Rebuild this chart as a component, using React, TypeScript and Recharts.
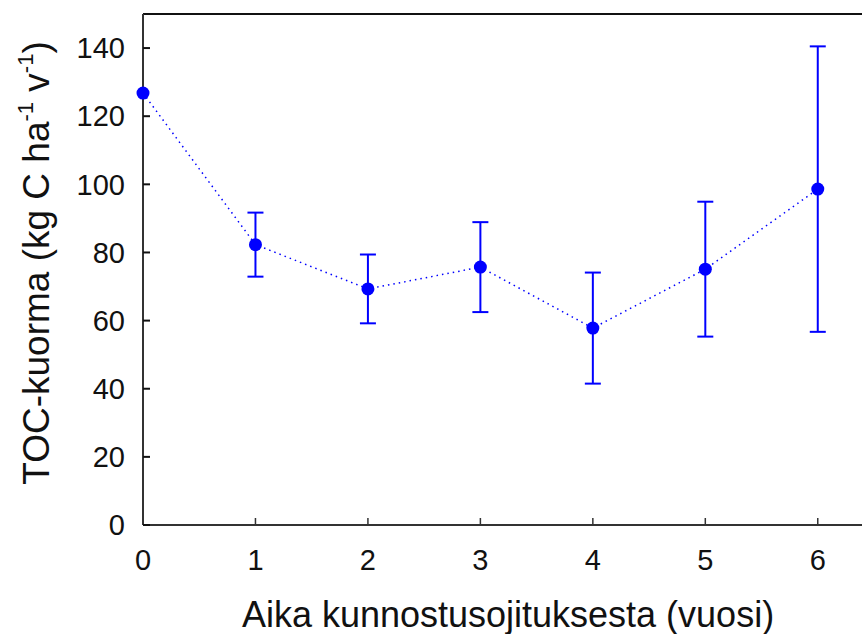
import React from "react";
import { LineChart, Line, XAxis, YAxis, ErrorBar, ReferenceLine } from "recharts";

const years = [0, 1, 2, 3, 4, 5, 6];
const toc = [126.8, 82.3, 69.3, 75.7, 57.8, 75.1, 98.6];
const toc_err = [null, 9.4, 10.1, 13.2, 16.3, 19.8, 41.9];
const yTicks = [0, 20, 40, 60, 80, 100, 120, 140];

const data = years.map((y, i) => ({ year: y, toc: toc[i], err: toc_err[i] }));

const FONT = "'Liberation Sans', Arial, sans-serif";
const BLUE = "#0000ff";

const YLabel = () => (
  <text
    x={49}
    y={263}
    transform="rotate(-90, 49, 263)"
    textAnchor="middle"
    fontFamily={FONT}
    fontSize={37}
    fill="#111"
  >
    TOC-kuorma (kg C ha
    <tspan fontSize={22} dy={-16}>-1</tspan>
    <tspan dy={16}> v</tspan>
    <tspan fontSize={22} dy={-16}>-1</tspan>
    <tspan dy={16}>)</tspan>
  </text>
);

const XLabel = () => (
  <text x={508} y={627} textAnchor="middle" fontFamily={FONT} fontSize={36} fill="#111">
    Aika kunnostusojituksesta (vuosi)
  </text>
);

export default function App() {
  return (
    <div style={{ position: "fixed", left: 0, top: 0, width: 862, height: 634, background: "#fff", overflow: "hidden" }}>
      <LineChart width={874} height={634} data={data} margin={{ top: 14, right: 0, bottom: 0, left: 0 }}>
        <XAxis
          dataKey="year"
          type="number"
          domain={[0, 6.5]}
          ticks={years}
          tickSize={-7}
          tickMargin={31}
          axisLine={{ stroke: "#333", strokeWidth: 2 }}
          tickLine={{ stroke: "#333", strokeWidth: 1.5 }}
          tick={{ fill: "#111", fontSize: 29, fontFamily: FONT }}
          height={109}
          label={<XLabel />}
        />
        <YAxis
          type="number"
          domain={[0, 150]}
          ticks={yTicks}
          allowDataOverflow
          width={143}
          tickSize={-7}
          tickMargin={25}
          axisLine={{ stroke: "#333", strokeWidth: 2 }}
          tickLine={{ stroke: "#111", strokeWidth: 2 }}
          tick={{ fill: "#111", fontSize: 29, fontFamily: FONT }}
          label={<YLabel />}
        />
        <ReferenceLine y={150} stroke="#111" strokeWidth={2} ifOverflow="extendDomain" />
        <Line
          dataKey="toc"
          stroke={BLUE}
          strokeWidth={1.5}
          strokeDasharray="1.5 4"
          dot={{ r: 6.5, fill: BLUE, stroke: BLUE, strokeWidth: 0 }}
          isAnimationActive={false}
        >
          <ErrorBar dataKey="err" direction="y" width={8} stroke={BLUE} strokeWidth={2} />
        </Line>
      </LineChart>
    </div>
  );
}
